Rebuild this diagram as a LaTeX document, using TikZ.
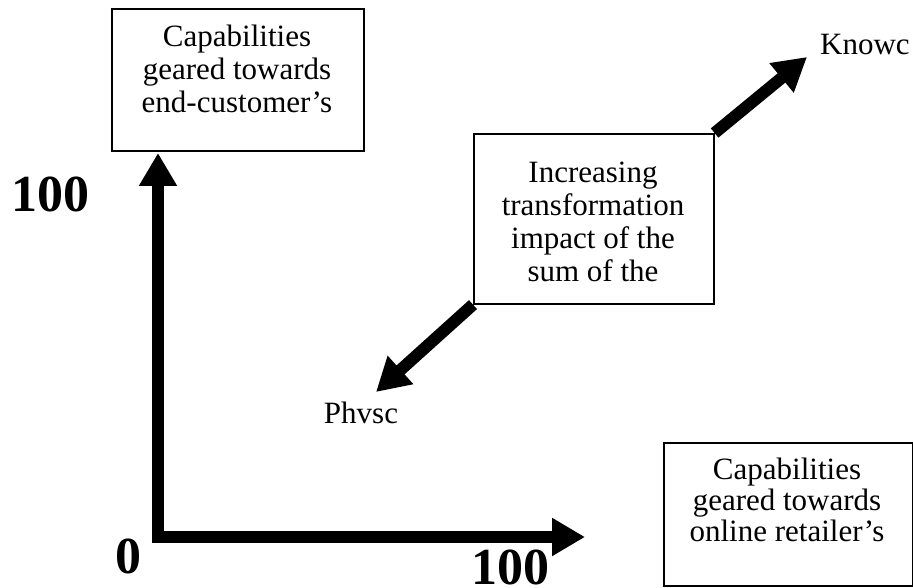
\documentclass[tikz,border=0pt]{standalone}
\usepackage{fontspec}
\setmainfont{Liberation Serif}
\usetikzlibrary{arrows.meta}
\tikzset{
  box/.style={draw, line width=1.6pt, rectangle, inner sep=0pt, anchor=north west},
  boxtext/.style={align=center, inner sep=0pt, anchor=base, font=\fontsize{31}{33}\selectfont},
  lbl/.style={inner sep=0pt, anchor=base, font=\fontsize{31}{33}\selectfont},
  num/.style={inner sep=0pt, anchor=base, font=\fontsize{52}{56}\selectfont\bfseries},
  bigarrow/.style={line width=12pt, -{Triangle[length=33pt,width=36pt]}}
}
\begin{document}
\begin{tikzpicture}[x=1pt,y=-1pt]
\useasboundingbox (0,0) rectangle (913,588);
% boxes
\node[box, minimum width=252pt, minimum height=142pt] (b1) at (111,8) {};
\node[box, minimum width=240pt, minimum height=170pt] (b2) at (473,133) {};
\node[box, minimum width=249pt, minimum height=143pt] (b3) at (663,442) {};
% box texts (anchor base = baseline of the last line)
\node[boxtext] (t1) at (237,113) {Capabilities\\geared towards\\end-customer’s};
\node[boxtext] (t2) at (593,281) {Increasing\\transformation\\impact of the\\sum of the};
\node[boxtext, font=\fontsize{31}{31}\selectfont] (t3) at (787,541) {Capabilities\\geared towards\\online retailer’s};
% labels
\node[lbl, anchor=base west] (kn) at (820,55) {Knowc};
\node[lbl] (ph) at (361,423) {Phvsc};
\node[num] (n100a) at (51,212) {100};
\node[num] (n0) at (128,573) {0};
\node[num] (n100b) at (510,584) {100};
% axis arrows
\coordinate (ov) at (158,537);
\coordinate (oh) at (152,537);
\coordinate (ytip) at (158,153);
\coordinate (xtip) at (585,537);
\draw[bigarrow] (ov) -- (ytip);
\draw[bigarrow] (oh) -- (xtip);
% diagonal arrows
\coordinate (ktip) at (807,57);
\coordinate (ptip) at (376,392);
\draw[bigarrow] (b2.north east) -- (ktip);
\draw[bigarrow] (b2.south west) -- (ptip);
\end{tikzpicture}
\end{document}
